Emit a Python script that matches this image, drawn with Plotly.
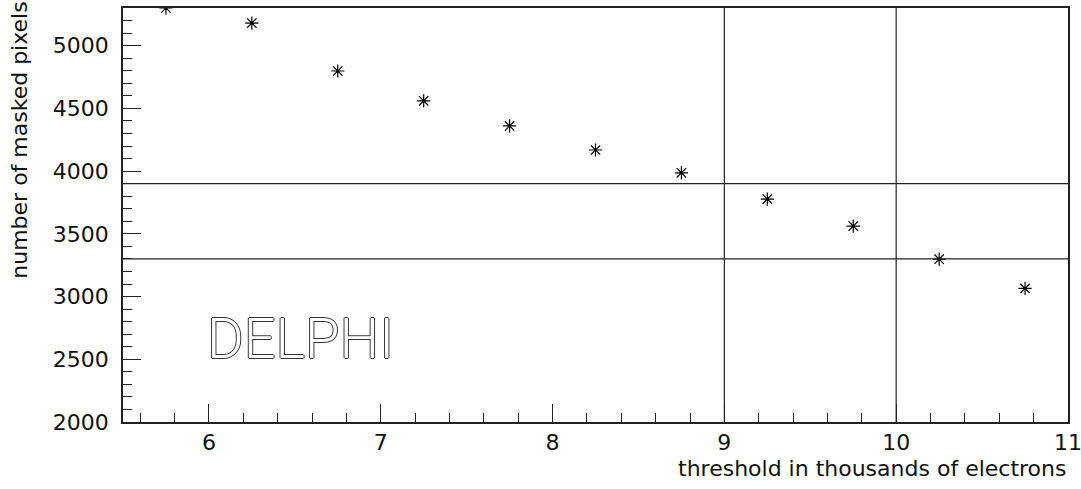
import plotly.graph_objects as go

# data
threshold = [5.75, 6.25, 6.75, 7.25, 7.75, 8.25, 8.75, 9.25, 9.75, 10.25, 10.75]
masked_pixels = [5300, 5180, 4798, 4560, 4360, 4168, 3986, 3777, 3562, 3298, 3065]
hlines = [3300, 3900]
vlines = [9, 10]
x_ticks = [6, 7, 8, 9, 10, 11]
y_ticks = [2000, 2500, 3000, 3500, 4000, 4500, 5000]

FONT = "DejaVu Sans"
fig = go.Figure()
fig.add_trace(go.Scatter(
    x=threshold, y=masked_pixels, mode="markers",
    marker=dict(symbol="asterisk-open", size=11, color="black",
                line=dict(color="black", width=1.2)),
    cliponaxis=True, showlegend=False))

for h in hlines:
    fig.add_hline(y=h, line=dict(color="#222", width=1.2))
for v in vlines:
    fig.add_vline(x=v, line=dict(color="#222", width=1.2))

fig.update_layout(
    width=1081, height=489,
    margin=dict(l=123, r=13, t=8, b=67, autoexpand=False),
    plot_bgcolor="white", paper_bgcolor="white",
    font=dict(family=FONT, size=22, color="#111"),
)
fig.update_xaxes(
    range=[5.5, 11], tickvals=x_ticks, ticks="inside", ticklen=18, tickwidth=1.2,
    tickcolor="#222", showline=True, linecolor="#222", linewidth=1.5, mirror=True,
    showgrid=False, zeroline=False, ticklabeloverflow="allow", automargin=False,
    minor=dict(dtick=0.2, tick0=0, ticks="inside", ticklen=9, tickwidth=1.2, tickcolor="#222", showgrid=False),
)
fig.update_yaxes(
    range=[2000, 5300], tickvals=y_ticks, ticks="inside", ticklen=18, tickwidth=1.2,
    tickcolor="#222", showline=True, linecolor="#222", linewidth=1.5, mirror=True,
    showgrid=False, zeroline=False, ticklabelstandoff=8, automargin=False,
    minor=dict(dtick=100, tick0=0, ticks="inside", ticklen=9, tickwidth=1.2, tickcolor="#222", showgrid=False),
)

fig.add_annotation(
    text="threshold in thousands of electrons", xref="paper", yref="paper",
    x=1.0, y=0, xanchor="right", yanchor="top", yshift=-32, showarrow=False,
    font=dict(family=FONT, size=22, color="#111"))
fig.add_annotation(
    text="number of masked pixels", xref="paper", yref="paper",
    x=0, y=1.02, xanchor="left", yanchor="top", xshift=-118, textangle=-90,
    showarrow=False, font=dict(family=FONT, size=22, color="#111"))
fig.add_annotation(
    text="DELPHI", xref="paper", yref="paper",
    x=0.188, y=0.2, xanchor="center", yanchor="middle", showarrow=False,
    font=dict(family="Roboto", weight=300, size=56, color="white",
              shadow="1px 0 0 #333, -1px 0 0 #333, 0 1px 0 #333, 0 -1px 0 #333"))

fig.write_html("out.html")
